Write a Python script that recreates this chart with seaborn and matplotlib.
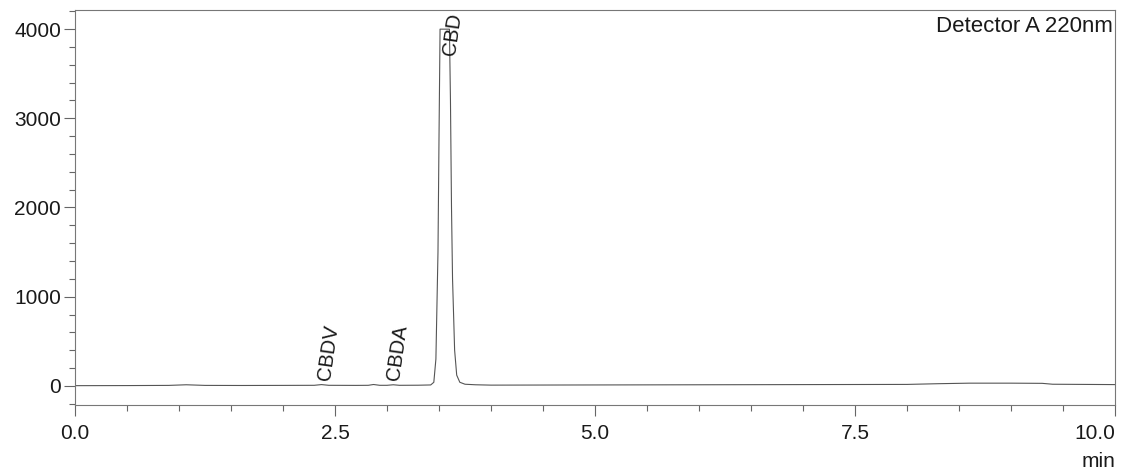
import pandas as pd
import seaborn as sns
import matplotlib.pyplot as plt

# trace (min, mV)
time_min = [0.0, 0.5, 0.9, 1.07, 1.25, 1.6, 2.0, 2.3, 2.37, 2.44, 2.7, 2.82, 2.87, 2.93,
            3.0, 3.06, 3.12, 3.3, 3.42, 3.45, 3.47, 3.49, 3.50, 3.51, 3.60, 3.61, 3.62,
            3.63, 3.65, 3.67, 3.70, 3.75, 3.85, 4.0, 5.0, 6.0, 7.0, 8.0, 8.3, 8.6, 9.0,
            9.3, 9.4, 10.0]
signal = [2, 3, 5, 12, 5, 4, 5, 6, 14, 6, 5, 6, 15, 6, 6, 12, 6, 7, 10, 40, 300, 1500,
          2800, 4000, 4000, 3200, 2000, 1200, 400, 120, 40, 18, 12, 8, 10, 12, 14, 16,
          24, 30, 30, 28, 18, 14]

peak_names = ['CBDV', 'CBDA', 'CBD']
label_x = [2.44, 3.10, 3.63]
label_y = [45, 45, 3690]

x_ticks = [0.0, 2.5, 5.0, 7.5, 10.0]
y_ticks = [0, 1000, 2000, 3000, 4000]

df = pd.DataFrame({'time': time_min, 'signal': signal})

sns.set_style("ticks")
plt.rcParams['font.family'] = ['Liberation Sans', 'DejaVu Sans']

fig = plt.figure(figsize=(11.23, 4.71), dpi=100)
ax = fig.add_axes([0.0668, 0.1401, 0.9261, 0.8387])
sns.lineplot(ax=ax, data=df, x='time', y='signal', color='#555555', linewidth=0.8)

ax.set_xlim(0, 10)
ax.set_ylim(-215, 4215)
ax.set_xticks(x_ticks)
ax.set_xticklabels([f"{v:.1f}" for v in x_ticks])
ax.get_xticklabels()[-1].set_ha('right')
ax.set_xticks([v / 2 for v in range(21)], minor=True)
ax.set_yticks(y_ticks)
ax.set_yticks(range(-200, 4201, 200), minor=True)
ax.tick_params(axis='both', which='major', length=8, width=0.8, color='#666666',
               labelsize=15, labelcolor='#1a1a1a')
ax.tick_params(axis='x', which='major', pad=6)
ax.tick_params(axis='y', which='major', pad=2)
ax.tick_params(axis='both', which='minor', length=4, width=0.8, color='#666666')
for s in ax.spines.values():
    s.set_color('#777777')
    s.set_linewidth(0.8)
ax.set_xlabel("")
ax.set_ylabel("")

for name, lx, ly in zip(peak_names, label_x, label_y):
    ax.text(lx, ly, name, rotation=82, ha='center', va='bottom', fontsize=14.5, color='#1a1a1a')

ax.text(0.998, 0.985, "Detector A 220nm", transform=ax.transAxes, ha='right', va='top',
        fontsize=16, color='#1a1a1a')
ax.text(1.0, -0.118, "min", transform=ax.transAxes, ha='right', va='top',
        fontsize=15, color='#1a1a1a')

plt.savefig("out.png", dpi=100)
